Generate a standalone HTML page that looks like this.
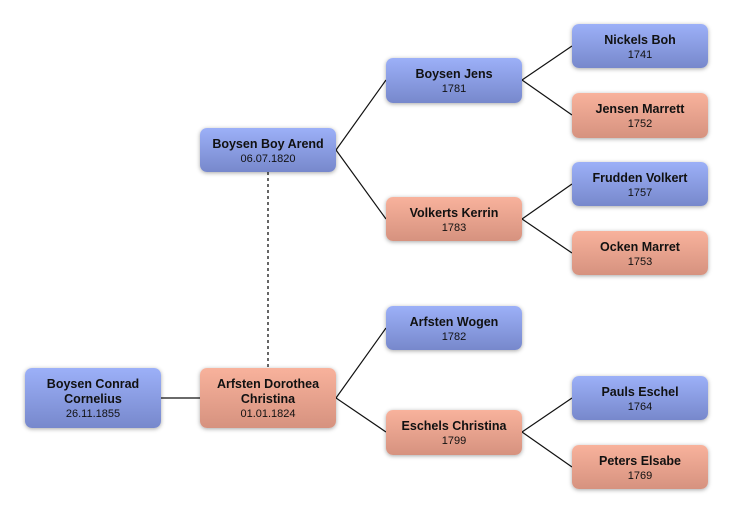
<!DOCTYPE html>
<html><head><style>
body{margin:0;width:732px;height:513px;background:#fff;position:relative;overflow:hidden;font-family:"Liberation Sans","DejaVu Sans",sans-serif}
.b{position:absolute;width:136px;border-radius:7px;box-shadow:0 1px 4px rgba(0,0,0,.35);display:flex;flex-direction:column;justify-content:center;align-items:center;text-align:center;color:#111;line-height:15px;padding-top:2px;box-sizing:border-box}
.b b{font-size:12.5px}
.b span{font-size:11px;line-height:14px}
.m{background:linear-gradient(#9cb0f8,#7788cc)}
.f{background:linear-gradient(#f8b29c,#d6927f)}
svg{position:absolute;left:0;top:0}
</style></head><body>
<svg width="732" height="513">
<g stroke="#111" stroke-width="1.2" fill="none">
<line x1="160" y1="398" x2="200" y2="398"/>
<polyline points="386,80 336,150 386,219"/>
<polyline points="386,328 336,398 386,432"/>
<polyline points="572,46 522,80 572,115"/>
<polyline points="572,184 522,219 572,253"/>
<polyline points="572,398 522,432 572,467"/>
</g>
<line x1="268" y1="172" x2="268" y2="368" stroke="#666" stroke-width="2" stroke-dasharray="3,3"/>
</svg>
<div class="b m" style="left:25px;top:368px;height:60px"><b>Boysen Conrad<br>Cornelius</b><span>26.11.1855</span></div>
<div class="b f" style="left:200px;top:368px;height:60px"><b>Arfsten Dorothea<br>Christina</b><span>01.01.1824</span></div>
<div class="b m" style="left:200px;top:128px;height:44px"><b>Boysen Boy Arend</b><span>06.07.1820</span></div>
<div class="b m" style="left:386px;top:58px;height:45px"><b>Boysen Jens</b><span>1781</span></div>
<div class="b f" style="left:386px;top:197px;height:44px"><b>Volkerts Kerrin</b><span>1783</span></div>
<div class="b m" style="left:386px;top:306px;height:44px"><b>Arfsten Wogen</b><span>1782</span></div>
<div class="b f" style="left:386px;top:410px;height:45px"><b>Eschels Christina</b><span>1799</span></div>
<div class="b m" style="left:572px;top:24px;height:44px"><b>Nickels Boh</b><span>1741</span></div>
<div class="b f" style="left:572px;top:93px;height:45px"><b>Jensen Marrett</b><span>1752</span></div>
<div class="b m" style="left:572px;top:162px;height:44px"><b>Frudden Volkert</b><span>1757</span></div>
<div class="b f" style="left:572px;top:231px;height:44px"><b>Ocken Marret</b><span>1753</span></div>
<div class="b m" style="left:572px;top:376px;height:44px"><b>Pauls Eschel</b><span>1764</span></div>
<div class="b f" style="left:572px;top:445px;height:44px"><b>Peters Elsabe</b><span>1769</span></div>
</body></html>
